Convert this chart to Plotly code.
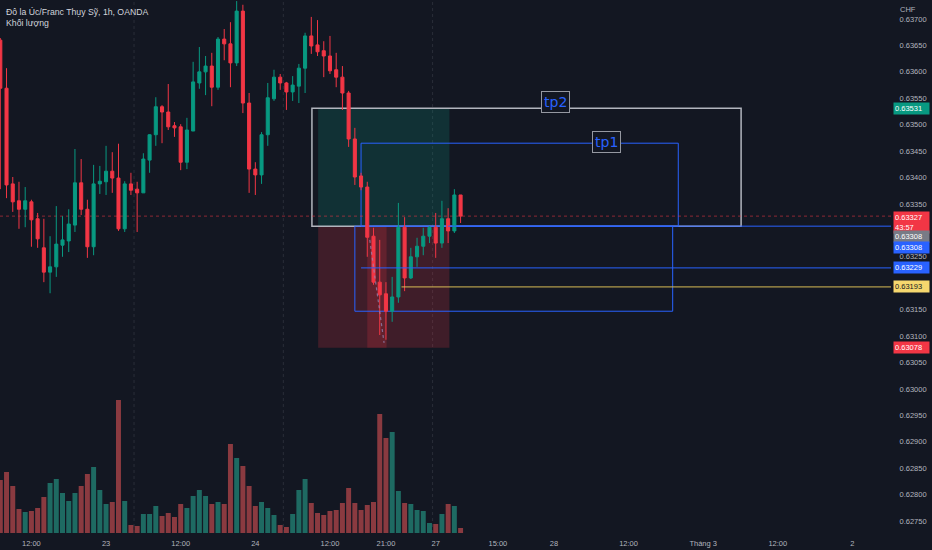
import plotly.graph_objects as go

# AUD/CHF 1h bars, weekend gap removed (bar index on x)
bar_idx = list(range(75))

opens = [0.63660, 0.63569, 0.63388, 0.63356, 0.63340, 0.63354, 0.63322, 0.63267, 0.63221, 0.63231,
         0.63272, 0.63280, 0.63310, 0.63390, 0.63340, 0.63269, 0.63388, 0.63392, 0.63412, 0.63399,
         0.63303, 0.63388, 0.63378, 0.63371, 0.63433, 0.63481, 0.63534, 0.63524, 0.63498, 0.63496,
         0.63429, 0.63488, 0.63579, 0.63600, 0.63611, 0.63571, 0.63662, 0.63653, 0.63617, 0.63715,
         0.63541, 0.63416, 0.63405, 0.63481, 0.63549, 0.63590, 0.63579, 0.63562, 0.63573, 0.63607,
         0.63668, 0.63651, 0.63640, 0.63630, 0.63604, 0.63590, 0.63560, 0.63473, 0.63403, 0.63382,
         0.63289, 0.63202, 0.63180, 0.63147, 0.63174, 0.63306, 0.63210, 0.63250, 0.63270, 0.63289,
         0.63306, 0.63276, 0.63322, 0.63299, 0.63367]
highs = [0.63664, 0.63607, 0.63401, 0.63392, 0.63382, 0.63358, 0.63333, 0.63322, 0.63289, 0.63346,
         0.63327, 0.63340, 0.63454, 0.63435, 0.63358, 0.63424, 0.63422, 0.63460, 0.63448, 0.63464,
         0.63393, 0.63409, 0.63392, 0.63446, 0.63482, 0.63552, 0.63537, 0.63577, 0.63505, 0.63501,
         0.63513, 0.63619, 0.63647, 0.63630, 0.63636, 0.63666, 0.63681, 0.63694, 0.63734, 0.63727,
         0.63560, 0.63429, 0.63486, 0.63579, 0.63604, 0.63596, 0.63581, 0.63592, 0.63615, 0.63674,
         0.63704, 0.63698, 0.63658, 0.63668, 0.63636, 0.63611, 0.63564, 0.63494, 0.63409, 0.63392,
         0.63305, 0.63282, 0.63202, 0.63212, 0.63352, 0.63325, 0.63267, 0.63286, 0.63305, 0.63308,
         0.63333, 0.63356, 0.63342, 0.63378, 0.63367]
lows = [0.63378, 0.63361, 0.63335, 0.63303, 0.63306, 0.63269, 0.63267, 0.63202, 0.63181, 0.63212,
        0.63250, 0.63259, 0.63297, 0.63329, 0.63248, 0.63253, 0.63369, 0.63367, 0.63371, 0.63299,
        0.63297, 0.63367, 0.63297, 0.63371, 0.63409, 0.63460, 0.63465, 0.63490, 0.63477, 0.63414,
        0.63416, 0.63488, 0.63568, 0.63556, 0.63535, 0.63566, 0.63622, 0.63571, 0.63611, 0.63522,
        0.63371, 0.63367, 0.63388, 0.63460, 0.63545, 0.63566, 0.63528, 0.63545, 0.63541, 0.63560,
        0.63634, 0.63630, 0.63590, 0.63596, 0.63571, 0.63528, 0.63458, 0.63386, 0.63376, 0.63250,
        0.63197, 0.63102, 0.63093, 0.63127, 0.63163, 0.63185, 0.63208, 0.63231, 0.63253, 0.63276,
        0.63248, 0.63267, 0.63276, 0.63295, 0.63314]
closes = [0.63569, 0.63386, 0.63354, 0.63340, 0.63356, 0.63320, 0.63284, 0.63221, 0.63231, 0.63274,
          0.63282, 0.63312, 0.63390, 0.63340, 0.63269, 0.63388, 0.63393, 0.63412, 0.63399, 0.63303,
          0.63388, 0.63376, 0.63371, 0.63435, 0.63481, 0.63534, 0.63524, 0.63496, 0.63494, 0.63429,
          0.63490, 0.63581, 0.63600, 0.63611, 0.63571, 0.63662, 0.63653, 0.63617, 0.63715, 0.63541,
          0.63416, 0.63405, 0.63481, 0.63551, 0.63590, 0.63579, 0.63562, 0.63575, 0.63607, 0.63668,
          0.63649, 0.63638, 0.63630, 0.63602, 0.63590, 0.63560, 0.63473, 0.63401, 0.63382, 0.63287,
          0.63202, 0.63178, 0.63147, 0.63174, 0.63306, 0.63210, 0.63250, 0.63270, 0.63289, 0.63306,
          0.63276, 0.63322, 0.63299, 0.63367, 0.63327]
volume = [53, 61, 47, 24, 21, 22, 25, 36, 50, 54, 40, 32, 40, 47, 59, 66, 43, 29, 31, 133,
          32, 8, 7, 19, 19, 27, 17, 20, 16, 29, 25, 37, 43, 37, 29, 31, 29, 89, 75, 67,
          47, 27, 31, 25, 18, 8, 6, 19, 43, 54, 30, 20, 18, 22, 23, 30, 45, 30, 23, 28,
          31, 119, 95, 101, 42, 30, 29, 23, 22, 10, 9, 19, 29, 27, 5]

tick_bars = [5, 17, 29, 41, 53, 62, 70, 80, 89, 101, 113, 125, 137]
tick_text = ["12:00", "23", "12:00", "24", "12:00", "21:00", "27", "15:00", "28", "12:00",
             "Tháng 3", "12:00", "2"]
# price scale labels (0.63300 and 0.63200 sit under the price tags)
price_ticks = [0.6370, 0.63650, 0.6360, 0.63550, 0.6350, 0.63450, 0.6340, 0.63350, 0.63250,
               0.63150, 0.6310, 0.63050, 0.6300, 0.62950, 0.6290, 0.62850, 0.6280, 0.62750]

# drawing levels
tp2_level = 0.63531
tp1_level = 0.63465
entry_level = 0.63308
stop_level = 0.63078
box_low_level = 0.63147
blue_level = 0.63229
yellow_level = 0.63193
last_price = 0.63327
session_breaks = [21.5, 45.5, 69.5]

BG = "#131722"
UP = "#089981"
DOWN = "#f23645"
BLUE = "#2962ff"
TXT = "#b2b5be"
FONT = "Liberation Sans"
X_MIN, X_MAX = -0.05, 143.2

vol_colors = ["#1e6a62" if c >= o else "#8a3a40" for o, c in zip(opens, closes)]

fig = go.Figure()
fig.add_trace(go.Bar(x=bar_idx, y=volume, yaxis="y2", marker_color=vol_colors,
                     marker_line_width=0, width=0.8, hoverinfo="skip", showlegend=False))
fig.add_trace(go.Candlestick(
    x=bar_idx, open=opens, high=highs, low=lows, close=closes,
    increasing=dict(line=dict(color=UP, width=1), fillcolor=UP),
    decreasing=dict(line=dict(color=DOWN, width=1), fillcolor=DOWN),
    whiskerwidth=0, showlegend=False, hoverinfo="skip"))

shapes = []
for b in session_breaks:
    shapes.append(dict(type="line", xref="x", yref="paper", x0=b, x1=b, y0=0, y1=1,
                       line=dict(color="#2a2e39", width=1, dash="dot"), layer="below"))
# long position tool
shapes.append(dict(type="rect", x0=51.1, x1=72.2, y0=entry_level, y1=tp2_level,
                   fillcolor="rgba(8,153,129,0.2)", line_width=0, layer="below"))
shapes.append(dict(type="rect", x0=51.1, x1=72.2, y0=stop_level, y1=entry_level,
                   fillcolor="rgba(242,54,69,0.2)", line_width=0, layer="below"))
shapes.append(dict(type="rect", x0=59.0, x1=62.1, y0=stop_level, y1=entry_level,
                   fillcolor="rgba(242,54,69,0.2)", line_width=0, layer="below"))
# boxes
shapes.append(dict(type="rect", x0=50.1, x1=119.1, y0=entry_level, y1=tp2_level,
                   line=dict(color="#b2b5be", width=1.5), layer="below"))
shapes.append(dict(type="rect", x0=58.0, x1=109.0, y0=entry_level, y1=tp1_level,
                   line=dict(color=BLUE, width=1), layer="below"))
shapes.append(dict(type="rect", x0=57.0, x1=108.1, y0=box_low_level, y1=entry_level,
                   line=dict(color=BLUE, width=1), layer="below"))
# horizontal rays
shapes.append(dict(type="line", x0=72.0, x1=X_MAX, y0=entry_level, y1=entry_level,
                   line=dict(color=BLUE, width=1)))
shapes.append(dict(type="line", x0=58.0, x1=X_MAX, y0=blue_level, y1=blue_level,
                   line=dict(color=BLUE, width=1)))
shapes.append(dict(type="line", x0=64.5, x1=X_MAX, y0=yellow_level, y1=yellow_level,
                   line=dict(color="#d8bc55", width=1)))
shapes.append(dict(type="line", x0=X_MIN, x1=X_MAX, y0=last_price, y1=last_price,
                   line=dict(color="rgba(242,54,69,0.55)", width=1, dash="dot"), layer="below"))
shapes.append(dict(type="line", x0=59.4, x1=61.7, y0=0.63282, y1=0.63087,
                   line=dict(color="rgba(150,140,190,0.7)", width=1.2, dash="dot")))


def price_tag(y, text, bg, fg="#ffffff", yshift=0, yanchor="middle"):
    return dict(xref="paper", x=1, xanchor="left", xshift=2, yref="y", y=y, yanchor=yanchor,
                yshift=yshift, text=text, showarrow=False, bgcolor=bg, align="left",
                font=dict(color=fg, size=7.5, family=FONT), borderpad=1, width=33)


annotations = [
    dict(xref="paper", yref="paper", x=0, y=1, xanchor="left", yanchor="top", xshift=4, yshift=-5,
         text="Đô la Úc/Franc Thụy Sỹ, 1h, OANDA", showarrow=False,
         font=dict(color="#d1d4dc", size=8.7, family=FONT)),
    dict(xref="paper", yref="paper", x=0, y=1, xanchor="left", yanchor="top", xshift=4, yshift=-16,
         text="Khối lượng", showarrow=False, font=dict(color="#d1d4dc", size=8.7, family=FONT)),
    dict(xref="paper", yref="paper", x=1, y=1, xanchor="left", yanchor="top", xshift=7, yshift=-3,
         text="CHF", showarrow=False, font=dict(color=TXT, size=7.5, family=FONT)),
    dict(x=89.3, y=0.63543, text="tp2", showarrow=False, bgcolor=BG, bordercolor="#9598a1",
         borderwidth=1, borderpad=2, font=dict(color=BLUE, size=14, family="DejaVu Sans")),
    dict(x=97.4, y=0.63468, text="tp1", showarrow=False, bgcolor=BG, bordercolor="#9598a1",
         borderwidth=1, borderpad=2, font=dict(color=BLUE, size=14, family="DejaVu Sans")),
    price_tag(tp2_level, "0.63531", UP),
    price_tag(last_price, "0.63327<br>43:57", DOWN, yanchor="top", yshift=5),
    price_tag(entry_level, "0.63308", "#787b86", yshift=-10),
    price_tag(entry_level, "0.63308", BLUE, yshift=-21),
    price_tag(blue_level, "0.63229", BLUE),
    price_tag(yellow_level, "0.63193", "#f5d76e", fg="#131722"),
    price_tag(stop_level, "0.63078", DOWN),
]

fig.update_layout(
    width=932, height=550,
    margin=dict(l=0, r=41, t=0, b=17),
    paper_bgcolor=BG, plot_bgcolor=BG,
    shapes=shapes, annotations=annotations,
    bargap=0.2,
    xaxis=dict(range=[X_MIN, X_MAX], rangeslider=dict(visible=False), showgrid=False,
               zeroline=False, showline=False, tickmode="array", tickvals=tick_bars,
               ticktext=tick_text, ticks="outside", ticklen=3, tickcolor="rgba(0,0,0,0)",
               tickfont=dict(color=TXT, size=7.5, family=FONT)),
    yaxis=dict(side="right", range=[0.627273, 0.63736], showgrid=False, zeroline=False,
               showline=False, tickmode="array", tickvals=price_ticks, tickformat=".5f",
               ticks="outside", ticklen=6, tickcolor="rgba(0,0,0,0)",
               tickfont=dict(color=TXT, size=7.5, family=FONT)),
    yaxis2=dict(overlaying="y", range=[0, 533], visible=False),
)

# page body has a default margin; drop it so the 932x550 figure fills the window
fig.write_html("out.html", config={"displayModeBar": False},
               post_script="document.body.style.margin='0';document.body.style.background='#131722';")
